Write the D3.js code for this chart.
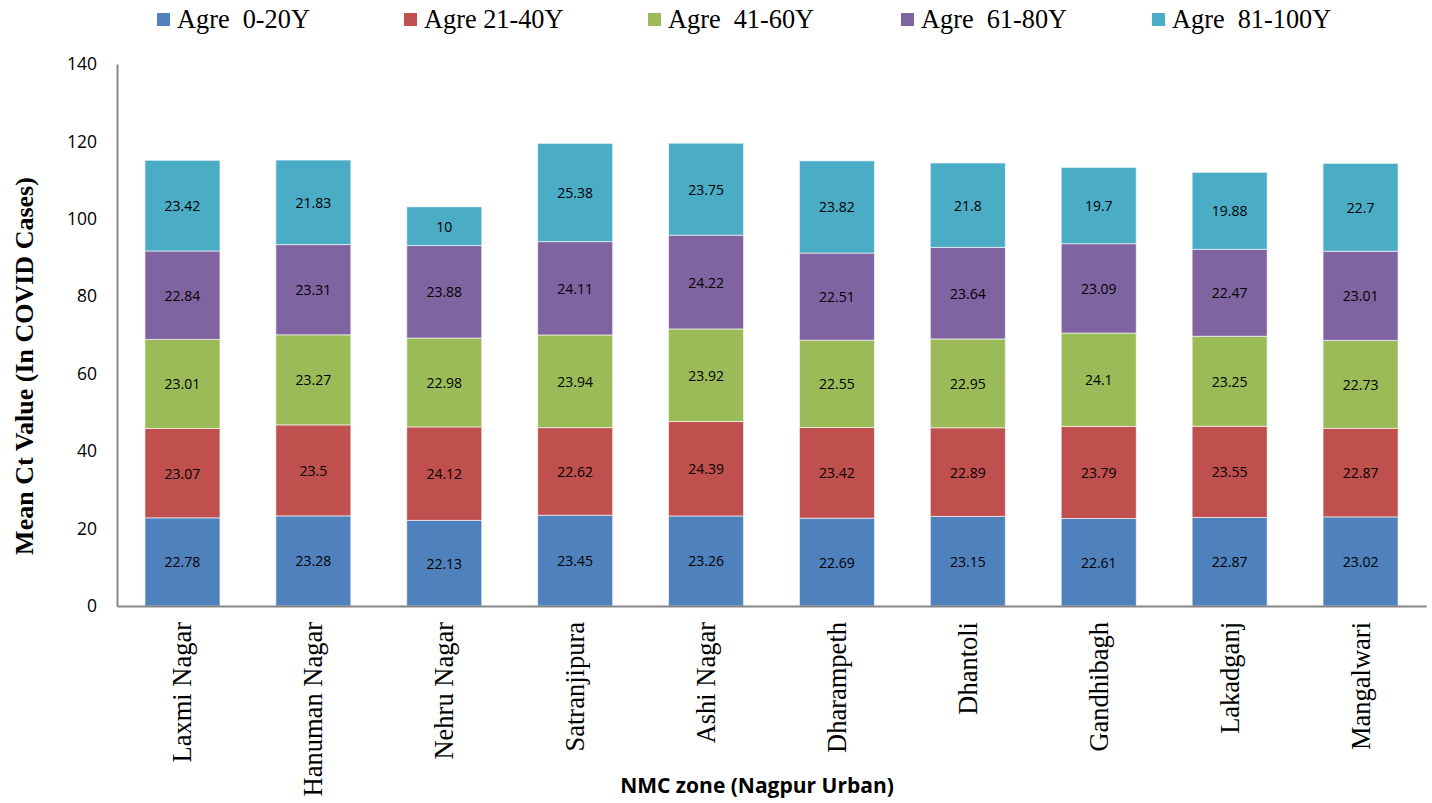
<!DOCTYPE html>
<html>
<head>
<meta charset="utf-8">
<script src="https://cdn.jsdelivr.net/npm/d3@7"></script>
<style>
  html, body { margin: 0; padding: 0; background: #fff; }
  svg { display: block; }
  text { white-space: pre; }
</style>
</head>
<body>
<svg id="chart" width="1432" height="803"></svg>
<script>
const categories = ["Laxmi Nagar", "Hanuman Nagar", "Nehru Nagar", "Satranjipura", "Ashi Nagar",
  "Dharampeth", "Dhantoli", "Gandhibagh", "Lakadganj", "Mangalwari"];
const seriesNames = ["Agre  0-20Y", "Agre 21-40Y", "Agre  41-60Y", "Agre  61-80Y", "Agre  81-100Y"];
const age0_20   = [22.78, 23.28, 22.13, 23.45, 23.26, 22.69, 23.15, 22.61, 22.87, 23.02];
const age21_40  = [23.07, 23.5, 24.12, 22.62, 24.39, 23.42, 22.89, 23.79, 23.55, 22.87];
const age41_60  = [23.01, 23.27, 22.98, 23.94, 23.92, 22.55, 22.95, 24.1, 23.25, 22.73];
const age61_80  = [22.84, 23.31, 23.88, 24.11, 24.22, 22.51, 23.64, 23.09, 22.47, 23.01];
const age81_100 = [23.42, 21.83, 10, 25.38, 23.75, 23.82, 21.8, 19.7, 19.88, 22.7];
const yTicks = [0, 20, 40, 60, 80, 100, 120, 140];
const colors = ["#4F81BD", "#C0504D", "#9BBB59", "#8064A2", "#4BACC6"];

const seriesValues = [age0_20, age21_40, age41_60, age61_80, age81_100];
const rows = categories.map((c, i) => {
  const r = { zone: c };
  seriesNames.forEach((s, k) => r[s] = seriesValues[k][i]);
  return r;
});

const svg = d3.select("#chart");
const x = d3.scaleBand().domain(categories).range([117, 1426]).paddingInner(0.427).paddingOuter(0.2135);
const y = d3.scaleLinear().domain([0, 140]).range([606, 64]);
const color = d3.scaleOrdinal().domain(seriesNames).range(colors);

const stacked = d3.stack().keys(seriesNames)(rows);

const layers = svg.append("g").selectAll("g").data(stacked).join("g")
  .attr("fill", d => color(d.key));
layers.selectAll("rect").data(d => d).join("rect")
  .attr("x", d => x(d.data.zone))
  .attr("y", d => y(d[1]))
  .attr("width", x.bandwidth())
  .attr("height", d => y(d[0]) - y(d[1]))
  .attr("stroke", "#ffffff")
  .attr("stroke-opacity", 0.6)
  .attr("stroke-width", 1);

// data labels
const lbl = svg.append("g").attr("font-family", "'Open Sans', sans-serif").attr("font-size", 14).attr("fill", "#000");
stacked.forEach(layer => {
  lbl.selectAll(null).data(layer).join("text")
    .attr("x", d => x(d.data.zone) + x.bandwidth() / 2)
    .attr("y", d => (y(d[0]) + y(d[1])) / 2)
    .attr("text-anchor", "middle")
    .attr("dominant-baseline", "central")
    .text(d => String(d.data[layer.key]));
});

// y axis
const yAxis = svg.append("g").attr("transform", "translate(117,0)")
  .call(d3.axisLeft(y).tickValues(yTicks).tickSize(0).tickPadding(20));
yAxis.select(".domain").attr("stroke", "#868686").attr("stroke-width", 2);
yAxis.selectAll("text").attr("font-family", "'Open Sans', sans-serif").attr("font-size", 17.5).attr("fill", "#000");

// x axis
const xAxis = svg.append("g").attr("transform", "translate(0,606)")
  .call(d3.axisBottom(x).tickSize(0).tickSizeOuter(0));
xAxis.select(".domain").attr("stroke", "#868686").attr("stroke-width", 2);
xAxis.selectAll("text")
  .attr("font-family", "'Liberation Serif', 'Times New Roman', serif")
  .attr("font-size", 26.5)
  .attr("fill", "#000")
  .attr("text-anchor", "end")
  .attr("dominant-baseline", "central")
  .attr("dy", null)
  .attr("y", 0)
  .attr("transform", "translate(0,16) rotate(-90)");

// axis titles
svg.append("text")
  .attr("transform", "translate(24,366) rotate(-90)")
  .attr("text-anchor", "middle")
  .attr("dominant-baseline", "central")
  .attr("font-family", "'Liberation Serif', 'Times New Roman', serif")
  .attr("font-weight", "bold")
  .attr("font-size", 26)
  .text("Mean Ct Value (In COVID Cases)");

svg.append("text")
  .attr("x", 757)
  .attr("y", 793)
  .attr("text-anchor", "middle")
  .attr("font-family", "'Open Sans', sans-serif")
  .attr("font-weight", "bold")
  .attr("font-size", 21)
  .text("NMC zone (Nagpur Urban)");

// legend
const legendX = [157, 404, 648, 901, 1152];
const legend = svg.append("g").selectAll("g").data(seriesNames).join("g")
  .attr("transform", (d, i) => `translate(${legendX[i]},0)`);
legend.append("rect").attr("x", 0).attr("y", 13).attr("width", 13).attr("height", 13)
  .attr("fill", d => color(d));
legend.append("text").attr("x", 20).attr("y", 28)
  .attr("font-family", "'Liberation Serif', 'Times New Roman', serif")
  .attr("font-size", 26.3)
  .attr("fill", "#000")
  .text(d => d);
</script>
</body>
</html>
